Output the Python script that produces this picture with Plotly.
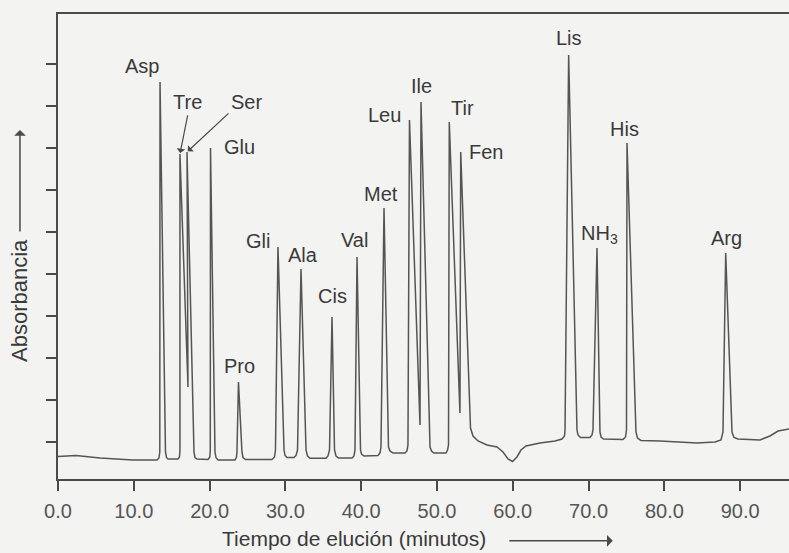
import plotly.graph_objects as go

# Elution time (minutes) and absorbance (arbitrary units)
time_min = [0.00, 2.37, 5.54, 9.89, 13.06, 13.32, 13.43, 13.46, 14.18, 14.31, 14.51,
            15.83, 16.03, 16.09, 16.09, 17.15, 17.02, 17.94, 18.07, 18.34,
            19.79, 20.03, 20.09, 20.12, 20.71, 20.84, 21.11,
            23.35, 23.55, 23.61, 23.81, 24.27, 24.41, 24.74,
            28.23, 28.56, 28.69, 29.02, 29.82, 29.95, 30.21,
            31.13, 31.40, 31.60, 32.06, 32.72, 32.92, 33.25,
            35.36, 35.62, 35.82, 36.15, 36.48, 36.68, 37.01,
            38.79, 39.05, 39.18, 39.45, 39.91, 40.04, 40.37,
            42.22, 42.48, 42.61, 43.01, 43.60, 43.80, 44.20,
            45.78, 46.04, 46.17, 46.37, 47.76, 47.89, 49.08, 49.27, 49.60,
            51.19, 51.39, 51.52, 51.62, 53.03, 53.13, 54.42, 54.75, 55.41,
            56.60, 57.92, 58.71, 59.37, 59.96, 60.55, 61.08, 61.74, 63.59,
            65.57, 66.49, 66.82, 66.89, 67.37, 68.47, 68.60, 68.93,
            70.18, 70.45, 70.58, 71.11, 71.50, 71.64, 71.97,
            74.54, 74.87, 75.00, 75.07, 76.25, 76.45, 76.91,
            79.42, 84.30, 86.68, 87.47, 87.73, 88.09, 88.92, 89.18, 89.71,
            92.61, 93.93, 94.99, 96.44, 97.90]
absorbance = [5.36, 5.60, 5.00, 4.52, 4.52, 5.00, 6.43, 94.52, 6.43, 5.12, 4.76,
              4.76, 5.24, 6.90, 77.38, 21.90, 77.86, 6.43, 5.12, 4.76,
              4.64, 5.24, 6.90, 78.81, 6.43, 5.12, 4.52,
              4.52, 5.24, 6.43, 23.10, 6.43, 5.12, 4.64,
              4.64, 5.24, 6.90, 55.24, 6.90, 5.60, 5.12,
              5.12, 5.60, 6.90, 50.00, 6.90, 5.48, 4.93,
              4.93, 5.48, 6.90, 38.57, 6.90, 5.48, 5.00,
              5.00, 5.48, 6.90, 52.86, 6.90, 5.95, 5.48,
              5.60, 6.19, 7.62, 64.52, 7.62, 6.67, 6.19,
              6.19, 6.67, 8.10, 85.48, 12.86, 89.76, 7.62, 6.67, 6.19,
              6.19, 6.90, 8.10, 85.00, 15.71, 77.86, 12.14, 10.24, 9.05,
              8.10, 7.62, 6.43, 4.76, 4.17, 5.24, 6.90, 7.86, 8.57,
              9.05, 9.52, 10.24, 11.67, 100.95, 11.67, 10.48, 9.88,
              9.88, 10.48, 11.67, 55.00, 11.19, 10.00, 9.52,
              9.40, 10.00, 11.67, 80.00, 11.19, 9.76, 9.17,
              9.05, 8.57, 8.81, 9.29, 11.19, 53.81, 11.19, 9.88, 9.52,
              9.29, 10.24, 11.43, 11.90, 12.00]

# Peak labels (amino acids)
peak_names = ["Asp", "Glu", "Gli", "Ala", "Cis", "Pro", "Val", "Met", "Leu",
              "Ile", "Tir", "Fen", "Lis", "His", "NH<sub>3</sub>", "Arg"]
label_t = [11.08, 23.88, 26.39, 32.32, 36.15, 23.88, 39.18, 42.61, 43.14,
           47.89, 53.30, 56.46, 67.41, 74.80, 71.50, 88.13]
label_y = [98.3, 79.0, 56.7, 53.3, 43.6, 26.9, 56.9, 67.9, 86.7,
           93.6, 88.3, 77.9, 105.0, 83.3, 58.1, 57.4]

# Labels with arrows pointing to their peaks
arrow_names = ["Tre", "Ser"]
arrow_label_t = [17.02, 24.93]
arrow_label_y = [89.8, 89.8]
arrow_tip_t = [16.09, 17.02]
arrow_tip_y = [77.38, 77.86]

x_ticks = [0, 10, 20, 30, 40, 50, 60, 70, 80, 90]
x_ticklabels = ["0.0", "10.0", "20.0", "30.0", "40.0", "50.0", "60.0", "70.0", "80.0", "90.0"]
y_ticks = [8.8 + 10 * k for k in range(10)]

INK = "#4a4a4a"
TXT = "#3a3a3a"
FONT = "Liberation Sans, Arial, sans-serif"
LBL = 20

fig = go.Figure()
fig.add_trace(go.Scatter(x=time_min, y=absorbance, mode="lines",
                         line=dict(color="#555555", width=1.5),
                         hoverinfo="skip", showlegend=False))

annotations = []
for name, t, y in zip(peak_names, label_t, label_y):
    annotations.append(dict(x=t, y=y, xref="x", yref="y", text=name, showarrow=False,
                            xanchor="center", yanchor="middle",
                            font=dict(size=LBL, color=TXT, family=FONT)))

arrow_offsets = [(8, -40), (43, -40)]
for name, lt, ly, t, y, (ax, ay) in zip(arrow_names, arrow_label_t, arrow_label_y,
                                        arrow_tip_t, arrow_tip_y, arrow_offsets):
    annotations.append(dict(x=t, y=y, xref="x", yref="y", text="", showarrow=True,
                            ax=ax, ay=ay, arrowhead=1, arrowsize=1.2, arrowwidth=1.2,
                            arrowcolor=INK, standoff=1))
    annotations.append(dict(x=lt, y=ly, xref="x", yref="y", text=name, showarrow=False,
                            xanchor="center", yanchor="middle",
                            font=dict(size=LBL, color=TXT, family=FONT)))

# Axis titles with arrows
annotations.append(dict(x=0.405, y=-0.128, xref="paper", yref="paper",
                        xanchor="center", yanchor="middle",
                        text="Tiempo de elución (minutos)", showarrow=False,
                        font=dict(size=21, color=TXT, family=FONT)))
annotations.append(dict(x=0.759, y=-0.133, xref="paper", yref="paper", text="",
                        showarrow=True, ax=-105, ay=0, arrowhead=1, arrowsize=1.3,
                        arrowwidth=1.5, arrowcolor=INK))
annotations.append(dict(x=-0.052, y=0.385, xref="paper", yref="paper",
                        xanchor="center", yanchor="middle",
                        text="Absorbancia", textangle=-90, showarrow=False,
                        font=dict(size=22, color=TXT, family=FONT)))
annotations.append(dict(x=-0.052, y=0.7505, xref="paper", yref="paper", text="",
                        showarrow=True, ax=0, ay=103, arrowhead=1, arrowsize=1.3,
                        arrowwidth=1.5, arrowcolor=INK))

fig.update_layout(
    width=789, height=553,
    margin=dict(l=58, r=0, t=14, b=74),
    paper_bgcolor="#f3f3f1", plot_bgcolor="#f3f3f1",
    font=dict(family=FONT, color=INK),
    annotations=annotations,
    xaxis=dict(range=[0, 96.44], tickvals=x_ticks, ticktext=x_ticklabels,
               showgrid=False, zeroline=False, showline=True, mirror=True,
               linecolor=INK, linewidth=1.5, ticks="outside", ticklen=10,
               tickwidth=1.5, tickcolor=INK, ticklabelstandoff=3,
               tickfont=dict(size=20, color="#555555", family=FONT)),
    yaxis=dict(range=[0, 110.71], tickvals=y_ticks, showticklabels=False,
               showgrid=False, zeroline=False, showline=True,
               linecolor=INK, linewidth=1.5, ticks="outside", ticklen=10,
               tickwidth=1.5, tickcolor=INK),
)

fig.write_html("out.html", config={"displayModeBar": False},
               post_script="document.body.style.margin='0px';document.body.style.background='#f3f3f1';")
